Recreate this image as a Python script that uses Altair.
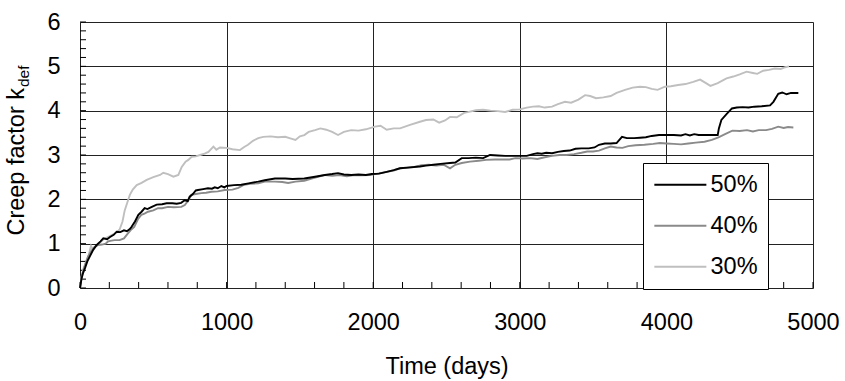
import altair as alt
import pandas as pd

# ---- data ----
d50 = [0, 10, 20, 34, 50, 68, 90, 114, 140, 159, 185, 205, 230, 250, 275, 300, 320, 340, 352, 375,
       398, 420, 441, 460, 490, 523, 560, 591, 630, 660, 690, 714, 735, 748, 770, 790, 805, 840, 873, 900,
       919, 940, 964, 985, 1000, 1050, 1100, 1150, 1216, 1260, 1330, 1400, 1450, 1530, 1603, 1671, 1720,
       1760, 1800, 1850, 1900, 1950, 1990, 2040, 2092, 2140, 2183, 2250, 2319, 2360, 2410, 2460, 2524,
       2560, 2604, 2650, 2700, 2750, 2797, 2850, 2900, 2950, 3000, 3047, 3090, 3120, 3150, 3180, 3220,
       3260, 3300, 3340, 3380, 3420, 3470, 3510, 3540, 3580, 3620, 3660, 3697, 3730, 3780, 3820, 3860,
       3900, 3950, 4000, 4050, 4100, 4130, 4160, 4190, 4220, 4260, 4300, 4350, 4358, 4375, 4410, 4447,
       4480, 4520, 4560, 4600, 4650, 4707, 4730, 4763, 4790, 4820, 4850, 4900]
v50 = [0.0, 0.2, 0.33, 0.45, 0.6, 0.72, 0.86, 0.97, 1.05, 1.12, 1.1, 1.15, 1.2, 1.27, 1.26, 1.3, 1.28, 1.33, 1.38, 1.5,
       1.65, 1.72, 1.8, 1.78, 1.83, 1.88, 1.89, 1.91, 1.91, 1.9, 1.92, 1.98, 1.96, 2.06, 2.12, 2.2, 2.21, 2.23, 2.25, 2.24,
       2.27, 2.25, 2.3, 2.27, 2.3, 2.32, 2.33, 2.36, 2.4, 2.43, 2.47, 2.47, 2.46, 2.47, 2.51, 2.55, 2.57,
       2.59, 2.56, 2.55, 2.56, 2.55, 2.57, 2.58, 2.62, 2.66, 2.7, 2.72, 2.74, 2.76, 2.78, 2.8, 2.82,
       2.83, 2.93, 2.93, 2.94, 2.93, 3.0, 2.99, 2.98, 2.98, 2.98, 2.98, 3.02, 3.04, 3.03, 3.05, 3.04,
       3.07, 3.09, 3.1, 3.14, 3.15, 3.15, 3.17, 3.23, 3.26, 3.26, 3.27, 3.41, 3.38, 3.38, 3.39, 3.4,
       3.43, 3.45, 3.45, 3.45, 3.44, 3.47, 3.44, 3.47, 3.45, 3.45, 3.45, 3.45, 3.6, 3.79, 3.92, 4.05,
       4.07, 4.08, 4.07, 4.09, 4.1, 4.12, 4.2, 4.38, 4.41, 4.37, 4.4, 4.4]

d40 = [0, 10, 25, 40, 55, 75, 100, 125, 150, 175, 191, 215, 236, 270, 300, 327, 350, 370, 395, 418,
       440, 464, 500, 532, 560, 600, 640, 691, 715, 740, 759, 790, 828, 860, 896, 940, 987, 1040, 1080,
       1120, 1160, 1216, 1260, 1330, 1380, 1420, 1470, 1530, 1580, 1624, 1671, 1720, 1770, 1820, 1870,
       1920, 1978, 2030, 2092, 2140, 2183, 2230, 2280, 2330, 2380, 2430, 2480, 2524, 2560, 2604, 2660,
       2720, 2770, 2830, 2880, 2930, 2970, 3020, 3070, 3120, 3170, 3220, 3270, 3320, 3370, 3420, 3460,
       3500, 3540, 3580, 3620, 3660, 3700, 3740, 3790, 3850, 3910, 3956, 4000, 4050, 4100, 4150, 4200,
       4260, 4310, 4355, 4400, 4450, 4500, 4550, 4590, 4630, 4680, 4720, 4763, 4800, 4830, 4866]
v40 = [0.0, 0.22, 0.42, 0.58, 0.71, 0.82, 0.93, 0.97, 0.98, 1.0, 1.05, 1.07, 1.08, 1.08, 1.12, 1.23, 1.32, 1.38, 1.55, 1.65,
       1.68, 1.72, 1.75, 1.8, 1.8, 1.83, 1.82, 1.83, 1.87, 1.98, 2.1, 2.12, 2.14, 2.15, 2.17, 2.18, 2.21, 2.22, 2.26,
       2.33, 2.35, 2.36, 2.4, 2.4, 2.39, 2.37, 2.4, 2.42, 2.47, 2.51, 2.55, 2.53, 2.55, 2.52, 2.55,
       2.54, 2.55, 2.58, 2.62, 2.65, 2.7, 2.71, 2.73, 2.77, 2.78, 2.76, 2.78, 2.7, 2.78, 2.82, 2.85,
       2.87, 2.89, 2.9, 2.9, 2.9, 2.93, 2.92, 2.93, 2.91, 2.95, 2.98, 3.0, 3.0, 3.02, 3.05, 3.08,
       3.08, 3.1, 3.15, 3.19, 3.17, 3.16, 3.2, 3.22, 3.23, 3.25, 3.27, 3.26, 3.25, 3.24, 3.26, 3.28,
       3.3, 3.34, 3.4, 3.47, 3.55, 3.54, 3.56, 3.53, 3.56, 3.56, 3.59, 3.64, 3.61, 3.63, 3.62]

d30 = [0, 10, 25, 45, 60, 75, 85, 100, 130, 160, 190, 220, 250, 270, 290, 305, 320, 340, 360, 387,
       420, 455, 500, 546, 568, 600, 637, 671, 694, 720, 739, 762, 790, 819, 850, 876, 910, 930, 955,
       1000, 1040, 1091, 1120, 1146, 1180, 1216, 1250, 1300, 1350, 1400, 1440, 1470, 1500, 1530, 1560,
       1603, 1640, 1680, 1720, 1760, 1800, 1850, 1900, 1950, 2012, 2050, 2092, 2140, 2183, 2251, 2319,
       2360, 2410, 2450, 2490, 2524, 2570, 2620, 2660, 2700, 2750, 2800, 2850, 2900, 2950, 3000, 3047,
       3090, 3130, 3170, 3220, 3260, 3308, 3350, 3400, 3445, 3480, 3520, 3570, 3620, 3660, 3718, 3770,
       3820, 3860, 3900, 3940, 3990, 4030, 4080, 4130, 4183, 4230, 4270, 4300, 4350, 4410, 4456, 4500,
       4547, 4590, 4620, 4660, 4700, 4740, 4780, 4810, 4836]
v30 = [0.0, 0.25, 0.45, 0.6, 0.75, 0.95, 0.88, 0.92, 1.0, 1.1, 1.15, 1.2, 1.25, 1.32, 1.5, 1.75, 1.9, 2.1, 2.22, 2.32,
       2.37, 2.44, 2.5, 2.55, 2.6, 2.57, 2.51, 2.55, 2.73, 2.85, 2.89, 2.96, 2.97, 3.0, 3.03, 3.07, 3.19, 3.12, 3.17,
       3.16, 3.13, 3.11, 3.18, 3.23, 3.32, 3.38, 3.41, 3.42, 3.4, 3.41, 3.37, 3.34, 3.42, 3.45, 3.52,
       3.56, 3.6, 3.57, 3.52, 3.45, 3.52, 3.56, 3.55, 3.58, 3.64, 3.66, 3.57, 3.6, 3.6, 3.68, 3.75,
       3.79, 3.8, 3.73, 3.78, 3.86, 3.85, 3.95, 3.98, 4.01, 4.02, 4.0, 3.99, 3.97, 4.02, 4.03, 4.07,
       4.09, 4.1, 4.07, 4.09, 4.15, 4.2, 4.18, 4.25, 4.35, 4.33, 4.28, 4.3, 4.33, 4.4, 4.47, 4.52,
       4.54, 4.53, 4.49, 4.47, 4.54, 4.55, 4.58, 4.6, 4.65, 4.7, 4.62, 4.56, 4.62, 4.73, 4.77, 4.82,
       4.88, 4.85, 4.83, 4.9, 4.92, 4.95, 4.94, 4.98, 5.0]

series_names = ["50%", "40%", "30%"]
series_colors = ["#000000", "#8a8a8a", "#bfbfbf"]
x_tick_labels = [0, 1000, 2000, 3000, 4000, 5000]
y_tick_labels = [0, 1, 2, 3, 4, 5, 6]
x_minor = list(range(0, 5001, 200))
y_minor = [i / 5 for i in range(0, 31)]

frames = []
for name, d, v in [("30%", d30, v30), ("40%", d40, v40), ("50%", d50, v50)]:
    frames.append(pd.DataFrame({"day": d, "k": v, "series": name}))
df = pd.concat(frames, ignore_index=True)

FONT = "Liberation Sans"
FS = 23.5
W, H = 733, 266

xscale = alt.Scale(domain=[0, 5000], nice=False, zero=False)
yscale = alt.Scale(domain=[0, 6], nice=False)
color = alt.Color(
    "series:N",
    scale=alt.Scale(domain=series_names, range=series_colors),
    legend=alt.Legend(
        title=None, orient="none", legendX=563, legendY=141,
        padding=10, strokeColor="black", fillColor="white",
        symbolType="M-1,0L4,0", symbolSize=433, symbolStrokeWidth=2,
        labelFontSize=FS, labelFont=FONT, labelColor="black",
        labelOffset=34, rowPadding=16, labelLimit=200,
    ),
)

xaxis = alt.Axis(values=x_tick_labels, format="d", title="Time (days)", titleFontSize=FS,
                 titleFont=FONT, titleFontWeight="normal", titleColor="black",
                 titleY=85, titleBaseline="alphabetic",
                 labelFontSize=FS, labelFont=FONT, labelColor="black", labelPadding=22,
                 tickSize=0, domain=False, grid=True, gridColor="#222222", gridWidth=1,
                 labelFlush=False)
yaxis = alt.Axis(values=y_tick_labels, format="d", title=None, labelFontSize=FS, labelFont=FONT,
                 labelColor="black", labelPadding=20, tickSize=0, domain=False,
                 grid=True, gridColor="#222222", gridWidth=1, labelFlush=False)

base = alt.Chart(df)
lines = []
for name in ["30%", "40%", "50%"]:
    lines.append(
        base.transform_filter(alt.datum.series == name)
        .mark_line(strokeWidth=1.9, interpolate="linear")
        .encode(x=alt.X("day:Q", scale=xscale, axis=xaxis),
                y=alt.Y("k:Q", scale=yscale, axis=yaxis),
                color=color,
                order="day:Q")
    )

xt = alt.Chart(pd.DataFrame({"t": x_minor})).mark_rule(color="black", strokeWidth=1).encode(
    x=alt.X("t:Q", scale=xscale), y=alt.value(H), y2=alt.value(H - 6))
yt = alt.Chart(pd.DataFrame({"t": y_minor})).mark_rule(color="black", strokeWidth=1).encode(
    y=alt.Y("t:Q", scale=yscale), x=alt.value(0), x2=alt.value(6))

one = pd.DataFrame({"a": [0]})
ytitle = alt.Chart(one).mark_text(angle=270, align="right", baseline="alphabetic",
                                  fontSize=FS, font=FONT, color="black").encode(
    x=alt.value(-56.5), y=alt.value(66), text=alt.value("Creep factor k"))
ysub = alt.Chart(one).mark_text(angle=270, align="left", baseline="alphabetic",
                                fontSize=15.5, font=FONT, color="black").encode(
    x=alt.value(-51), y=alt.value(65), text=alt.value("def"))

chart = alt.layer(xt, yt, *lines, ytitle, ysub).properties(
    width=W, height=H,
    autosize=alt.AutoSizeParams(type="none"),
    padding={"left": 80, "top": 22, "right": 32, "bottom": 93},
).configure_view(stroke="black", strokeWidth=2).configure(background="white")

chart.save("out.html", embed_options={"renderer": "svg", "actions": False})
